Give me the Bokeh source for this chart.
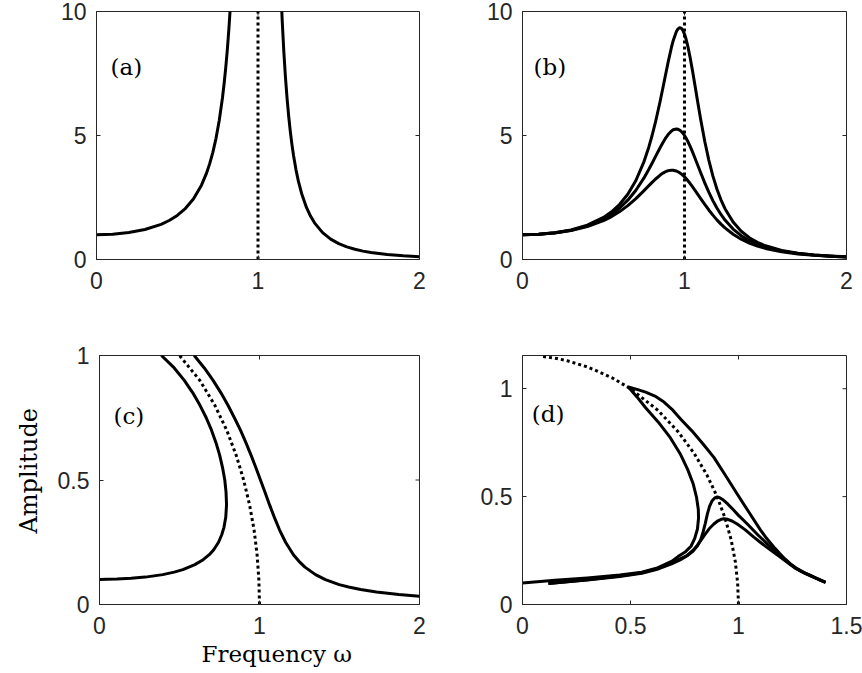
from bokeh.plotting import figure
from bokeh.models import Range1d, FixedTicker, Label, Title
from bokeh.layouts import column, row
from bokeh.embed import file_html
from bokeh.resources import INLINE
import math

# ---------------- data ----------------
# panel (a): undamped response
a_w_left = [0, 0.1, 0.2, 0.3, 0.4, 0.45, 0.5, 0.55, 0.6, 0.65, 0.68, 0.7, 0.72, 0.74, 0.76, 0.78, 0.79, 0.8, 0.81, 0.82, 0.83, 0.84]
a_y_left = [1.000, 1.020, 1.085, 1.208, 1.417, 1.572, 1.778, 2.055, 2.441, 2.998, 3.460, 3.845, 4.312, 4.886, 5.605, 6.521, 7.077, 7.716, 8.455, 9.318, 10.33, 11.54]
a_w_right = [1.14, 1.15, 1.16, 1.17, 1.18, 1.19, 1.2, 1.21, 1.22, 1.235, 1.25, 1.27, 1.3, 1.325, 1.35, 1.4, 1.45, 1.5, 1.55, 1.6, 1.65, 1.7, 1.8, 1.9, 2.0]
a_y_right = [11.14, 9.615, 8.372, 7.348, 6.494, 5.776, 5.165, 4.643, 4.192, 3.625, 3.160, 2.662, 2.100, 1.751, 1.478, 1.085, 0.823, 0.640, 0.508, 0.411, 0.337, 0.280, 0.199, 0.147, 0.111]

# panel (b): damped responses, three damping levels
b_w = [0, 0.1, 0.2, 0.3, 0.4, 0.5, 0.55, 0.6, 0.65, 0.7, 0.75, 0.78, 0.8, 0.82, 0.85, 0.87, 0.88, 0.9, 0.92, 0.93,
       0.95, 0.96, 0.97, 0.98, 0.99, 1.0, 1.01, 1.02, 1.035, 1.05, 1.065, 1.08, 1.1, 1.125, 1.15, 1.175, 1.2, 1.225, 1.25, 1.3,
       1.35, 1.4, 1.45, 1.5, 1.6, 1.7, 1.8, 1.9, 2.0]
b_y1 = [1.000, 1.019, 1.080, 1.193, 1.383, 1.695, 1.924, 2.226, 2.632, 3.185, 3.948, 4.540, 5.000, 5.516, 6.390, 7.025, 7.349, 7.987, 8.569, 8.819,
        9.193, 9.300, 9.346, 9.327, 9.242, 9.091, 8.880, 8.615, 8.136, 7.588, 7.004, 6.411, 5.643, 4.767, 4.008, 3.370, 2.841, 2.406, 2.048, 1.511,
        1.140, 0.879, 0.691, 0.552, 0.368, 0.257, 0.186, 0.139, 0.106]
b_y2 = [1.000, 1.018, 1.076, 1.182, 1.356, 1.633, 1.828, 2.076, 2.392, 2.793, 3.290, 3.636, 3.882, 4.136, 4.514, 4.751, 4.860, 5.048, 5.185, 5.229,
        5.263, 5.250, 5.217, 5.164, 5.091, 5.000, 4.892, 4.768, 4.560, 4.329, 4.084, 3.832, 3.495, 3.089, 2.714, 2.375, 2.076, 1.816, 1.590, 1.228,
        0.961, 0.761, 0.611, 0.497, 0.339, 0.241, 0.177, 0.133, 0.102]
b_y3 = [1.000, 1.017, 1.071, 1.169, 1.327, 1.569, 1.732, 1.932, 2.173, 2.456, 2.777, 2.977, 3.109, 3.236, 3.404, 3.494, 3.531, 3.583, 3.603, 3.601,
        3.568, 3.538, 3.499, 3.452, 3.396, 3.333, 3.263, 3.187, 3.063, 2.930, 2.791, 2.648, 2.456, 2.221, 1.997, 1.789, 1.598, 1.427, 1.274, 1.017,
        0.818, 0.662, 0.542, 0.447, 0.312, 0.225, 0.167, 0.127, 0.098]

# resonance marker for (a), (b)
res_w = [1, 1]
res_y = [0, 10]

# panel (c): undamped nonlinear branches
c_left_w = [0, 0.047, 0.109, 0.198, 0.286, 0.395, 0.467, 0.521, 0.596, 0.648, 0.686, 0.714, 0.744, 0.764, 0.778, 0.789, 0.794, 0.791, 0.783, 0.769, 0.751, 0.728, 0.700, 0.667, 0.628, 0.583, 0.530, 0.467, 0.387]
c_left_a = [0.1008, 0.101, 0.102, 0.105, 0.11, 0.12, 0.13, 0.14, 0.16, 0.18, 0.2, 0.22, 0.25, 0.28, 0.31, 0.35, 0.4, 0.45, 0.5, 0.55, 0.6, 0.65, 0.7, 0.75, 0.8, 0.85, 0.9, 0.95, 1.0]
c_right_w = [0.592, 0.655, 0.710, 0.759, 0.803, 0.843, 0.881, 0.915, 0.947, 0.977, 1.006, 1.035, 1.063, 1.093, 1.125, 1.163, 1.212, 1.252, 1.284, 1.350, 1.412, 1.498, 1.557, 1.632, 1.731, 1.871, 2.000]
c_right_a = [1.0, 0.95, 0.9, 0.85, 0.8, 0.75, 0.7, 0.65, 0.6, 0.55, 0.5, 0.45, 0.4, 0.35, 0.3, 0.25, 0.2, 0.17, 0.15, 0.12, 0.1, 0.08, 0.07, 0.06, 0.05, 0.04, 0.0333]

# backbone curve (dotted) for (c), (d)
bb_w = [1.0, 0.996, 0.985, 0.966, 0.938, 0.901, 0.854, 0.795, 0.721, 0.627, 0.5, 0.416, 0.304, 0.206, 0.159, 0.090]
bb_a = [0, 0.1, 0.2, 0.3, 0.4, 0.5, 0.6, 0.7, 0.8, 0.9, 1.0, 1.05, 1.1, 1.13, 1.14, 1.15]

# panel (d): damped nonlinear responses
d1_w = [0, 0.15, 0.3, 0.45, 0.552, 0.62, 0.69, 0.72, 0.755, 0.78, 0.797, 0.81, 0.815, 0.814, 0.806, 0.79, 0.765, 0.732,
        0.685, 0.629, 0.57, 0.53, 0.49, 0.53, 0.57, 0.613, 0.65, 0.691, 0.735, 0.783, 0.835, 0.886, 0.94, 0.994, 1.05,
        1.102, 1.125, 1.148, 1.17, 1.19, 1.215, 1.241, 1.265, 1.29, 1.31, 1.333, 1.37, 1.403]
d1_a = [0.100, 0.112, 0.123, 0.137, 0.150, 0.168, 0.200, 0.222, 0.245, 0.27, 0.305, 0.35, 0.40, 0.44, 0.495, 0.56, 0.625, 0.695,
        0.772, 0.845, 0.912, 0.962, 1.008, 0.997, 0.984, 0.966, 0.942, 0.906, 0.856, 0.806, 0.745, 0.682, 0.598, 0.512, 0.425,
        0.345, 0.313, 0.285, 0.259, 0.237, 0.211, 0.188, 0.170, 0.156, 0.145, 0.135, 0.118, 0.103]
d2_w = [0.12, 0.3, 0.45, 0.552, 0.62, 0.69, 0.732, 0.765, 0.79, 0.81, 0.825, 0.836, 0.846, 0.856, 0.866, 0.878, 0.89, 0.902,
        0.915, 0.93, 0.95, 0.975, 1.0, 1.041, 1.09, 1.133, 1.19, 1.241, 1.265, 1.29, 1.31, 1.333, 1.37, 1.403]
d2_a = [0.097, 0.115, 0.132, 0.147, 0.165, 0.193, 0.213, 0.228, 0.248, 0.272, 0.30, 0.335, 0.375, 0.42, 0.455, 0.481, 0.494, 0.498,
        0.494, 0.484, 0.466, 0.44, 0.413, 0.373, 0.322, 0.281, 0.230, 0.186, 0.168, 0.154, 0.144, 0.134, 0.117, 0.103]
d3_w = [0.12, 0.3, 0.45, 0.552, 0.62, 0.69, 0.732, 0.76, 0.79, 0.81, 0.825, 0.845, 0.865, 0.886, 0.905, 0.92, 0.933, 0.95,
        0.97, 0.994, 1.03, 1.071, 1.105, 1.141, 1.19, 1.241, 1.265, 1.29, 1.31, 1.333, 1.37, 1.403]
d3_a = [0.097, 0.114, 0.130, 0.145, 0.162, 0.188, 0.208, 0.225, 0.252, 0.275, 0.296, 0.325, 0.352, 0.373, 0.388, 0.395, 0.397, 0.395,
        0.387, 0.373, 0.347, 0.312, 0.285, 0.258, 0.222, 0.184, 0.167, 0.153, 0.143, 0.133, 0.117, 0.103]

# ticks
ticks_x02 = [0, 1, 2]
ticks_y10 = [0, 5, 10]
ticks_y1 = [0, 0.5, 1]
ticks_x15 = [0, 0.5, 1, 1.5]
tick_text = {0: "0", 0.5: "0.5", 1: "1", 1.5: "1.5", 2: "2", 5: "5", 10: "10"}

panel_tags = ["(a)", "(b)", "(c)", "(d)"]
x_title = "Frequency \u03c9"
y_title = "Amplitude"

AX = "#262626"
TICK_FONT = "Liberation Sans"
SERIF = "DejaVu Serif"


def make_fig(xr, yr, w, h, bl, br, bt, bb, xt, yt):
    p = figure(width=w, height=h, x_range=Range1d(*xr), y_range=Range1d(*yr),
               output_backend="svg", toolbar_location=None,
               min_border_left=bl, min_border_right=br,
               min_border_top=bt, min_border_bottom=bb)
    p.xgrid.visible = False
    p.ygrid.visible = False
    p.outline_line_color = AX
    p.outline_line_width = 1
    p.background_fill_color = "white"
    p.border_fill_color = "white"
    xo = {t: tick_text[t] for t in xt}
    yo = {t: tick_text[t] for t in yt}
    for ax, ticks, over, sd in ((p.xaxis[0], xt, xo, 12), (p.yaxis[0], yt, yo, 10)):
        ax.ticker = FixedTicker(ticks=ticks)
        ax.major_label_overrides = over
        ax.major_label_text_font = TICK_FONT
        ax.major_label_text_font_size = "23px"
        ax.major_label_text_color = AX
        ax.major_label_standoff = sd
        ax.major_tick_in = 4
        ax.major_tick_out = 0
        ax.minor_tick_line_color = None
        ax.axis_line_color = AX
        ax.major_tick_line_color = AX
    # inward ticks on the top and right edges of the box
    p.ray(x=xt, y=[yr[1]] * len(xt), length=4, length_units="screen",
          angle=-math.pi / 2, line_color=AX, line_width=1)
    p.ray(x=[xr[1]] * len(yt), y=yt, length=4, length_units="screen",
          angle=math.pi, line_color=AX, line_width=1)
    return p


LW = 3
DOT = dict(line_color="black", line_width=3, line_dash="3 3")
SOLID = dict(line_color="black", line_width=LW, line_join="round")
TAG = dict(text_font=SERIF, text_font_size="23px", text_baseline="middle",
           text_align="left", text_color="black")

# (a)
pa = make_fig((0, 2), (0, 10), 431, 320, 96, 12, 11, 61, ticks_x02, ticks_y10)
pa.line(a_w_left, a_y_left, **SOLID)
pa.line(a_w_right, a_y_right, **SOLID)
pa.line(res_w, res_y, **DOT)
pa.add_layout(Label(x=0.087, y=7.78, text=panel_tags[0], **TAG))

# (b)
pb = make_fig((0, 2), (0, 10), 431, 320, 91, 16, 11, 61, ticks_x02, ticks_y10)
pb.line(b_w, b_y1, **SOLID)
pb.line(b_w, b_y2, **SOLID)
pb.line(b_w, b_y3, **SOLID)
pb.line(res_w, res_y, **DOT)
pb.add_layout(Label(x=0.068, y=7.78, text=panel_tags[1], **TAG))

# (c)
pc = make_fig((0, 2), (0, 1), 431, 350, 96, 12, 35, 66, ticks_x02, ticks_y1)
pc.line(c_left_w, c_left_a, **SOLID)
pc.line(c_right_w, c_right_a, **SOLID)
pc.line(bb_w, bb_a, **DOT)
pc.add_layout(Label(x=0.087, y=0.759, text=panel_tags[2], **TAG))
pc.add_layout(Title(text=x_title, align="left", offset=102, standoff=5,
                    text_font=SERIF, text_font_size="23px", text_font_style="normal",
                    text_color="black"), "below")
pc.add_layout(Title(text=y_title, align="left", offset=71, standoff=24,
                    text_font=SERIF, text_font_size="24px", text_font_style="normal",
                    text_color="black"), "left")

# (d)
pd = make_fig((0, 1.5), (0, 1.154), 431, 350, 91, 16, 35, 66, ticks_x15, ticks_y1)
pd.line(d1_w, d1_a, **SOLID)
pd.line(d2_w, d2_a, **SOLID)
pd.line(d3_w, d3_a, **SOLID)
pd.line(bb_w, bb_a, **DOT)
pd.add_layout(Label(x=0.043, y=0.884, text=panel_tags[3], **TAG))

layout = column(row(pa, pb), row(pc, pd))

open("out.html", "w").write(file_html(layout, INLINE))
